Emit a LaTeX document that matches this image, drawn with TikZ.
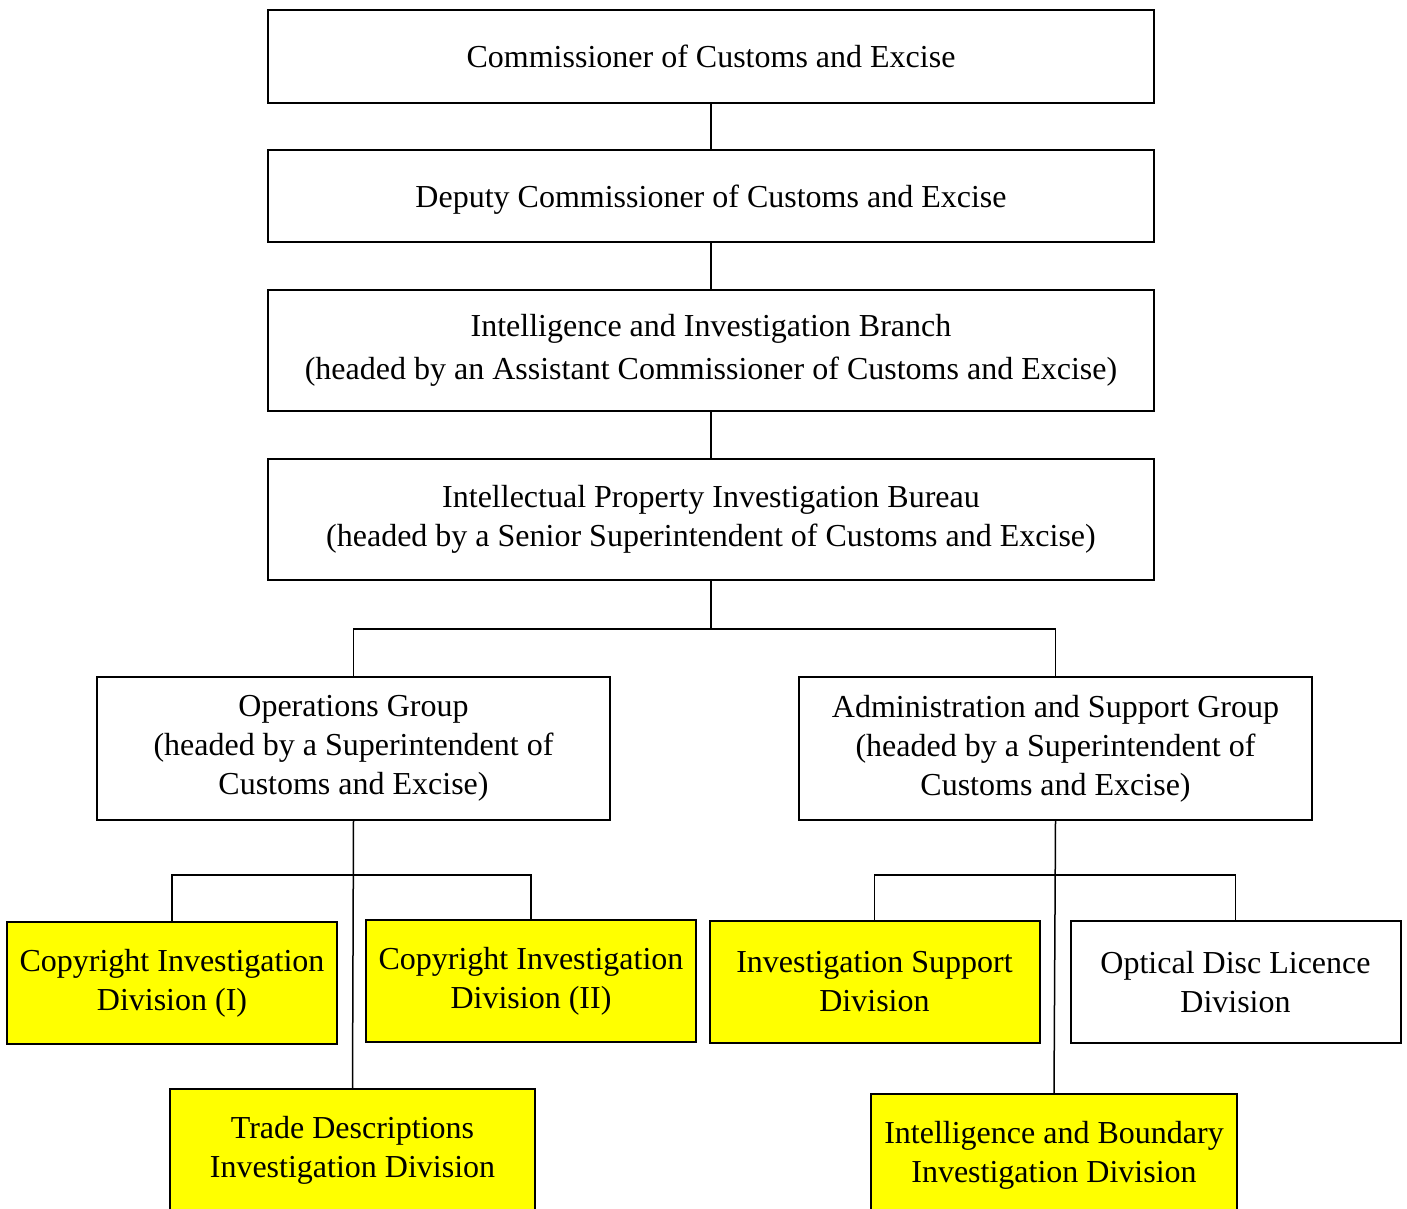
\documentclass[tikz,border=0pt]{standalone}
\usepackage{fontspec}
\setmainfont{Liberation Serif}
\usetikzlibrary{calc}
\definecolor{divyellow}{RGB}{255,255,0}

\begin{document}
\begin{tikzpicture}[x=0.5pt, y=-0.5pt,
	unit/.style={draw=black, line width=1pt, align=center, inner sep=0pt,
		font=\fontsize{16}{19.5}\selectfont},
	wide/.style={unit, minimum width=443pt},
	half/.style={unit, minimum width=256.5pt, minimum height=71.5pt},
	division/.style={unit, fill=divyellow, minimum width=165pt, minimum height=61pt},
	link/.style={line width=0.75pt}]
	%%%%% START %%%%%
	\useasboundingbox (0,0) rectangle (1407,1209);
	
	\node[wide, minimum height=46.5pt] (comm) at (711, 56.5) {Commissioner of Customs and Excise};
	\node[wide, minimum height=46pt] (deputy) at (711, 196) {};
	\node (deputylabel) at ([yshift=-2pt]deputy.center) [font=\fontsize{16}{19.5}\selectfont] {Deputy Commissioner of Customs and Excise};
	\node[wide, minimum height=60.5pt] (branch) at (711, 350.5) {Intelligence and Investigation Branch\\[2pt](headed by an Assistant Commissioner of Customs and Excise)};
	\node[wide, minimum height=60.5pt] (bureau) at (711, 519.5) {Intellectual Property Investigation Bureau\\(headed by a Senior Superintendent of Customs and Excise)};
	
	\node[half] (ops) at (353.5, 748) {Operations Group\\(headed by a Superintendent of\\Customs and Excise)};
	\node[half] (admin) at (1055.5, 748.5) {Administration and Support Group\\(headed by a Superintendent of\\Customs and Excise)};
	
	\node[division] (copyI) at (172, 983) {Copyright Investigation\\Division (I)};
	\node[division] (copyII) at (531, 981) {Copyright Investigation\\Division (II)};
	\node[division, minimum width=182.5pt] (trade) at (352.5, 1150) {Trade Descriptions\\Investigation Division};
	
	\node[division] (support) at (874.5, 982) {Investigation Support\\Division};
	\node[division, fill=white] (disc) at (1235.5, 982) {Optical Disc Licence\\Division};
	\node[division, minimum width=183pt] (boundary) at (1054, 1155) {Intelligence and Boundary\\Investigation Division};
	
	% vertical chain
	\draw[link] (comm) -- (deputy);
	\draw[link] (deputy) -- (branch);
	\draw[link] (branch) -- (bureau);
	
	% groups
	\coordinate (busD) at (711, 629);
	\draw[link] (bureau.south) -- (busD);
	\draw[link] (ops.north) |- (busD) -| (admin.north);
	
	% operations divisions
	\coordinate (busE) at (351, 875);
	\draw[link] (ops.south) -- (trade.north);
	\draw[link] (copyI.north) |- (busE) -| (copyII.north);
	
	% administration divisions
	\coordinate (busF) at (1055, 875);
	\draw[link] (admin.south) -- (boundary.north);
	\draw[link] (support.north) |- (busF) -| (disc.north);
	%%%%% END %%%%%
\end{tikzpicture}
\end{document}
